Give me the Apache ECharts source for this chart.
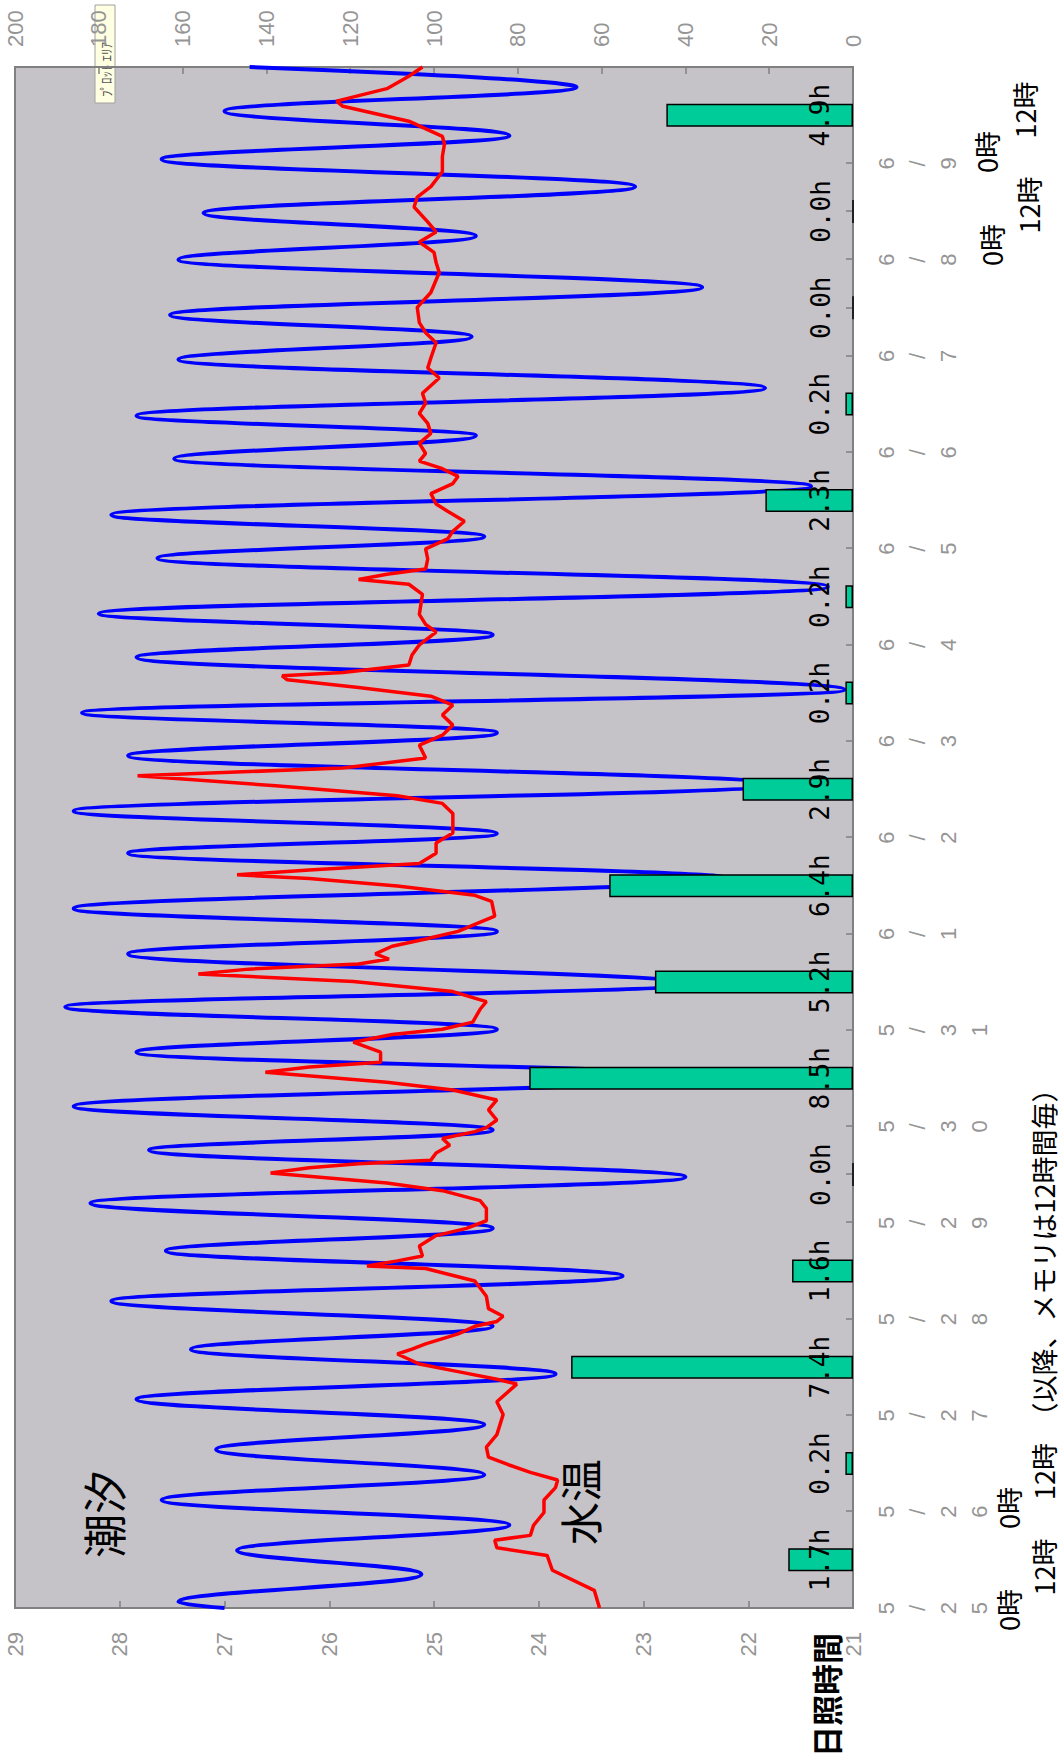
<!DOCTYPE html>
<html>
<head>
<meta charset="utf-8">
<script src="https://cdn.jsdelivr.net/npm/echarts@6/dist/echarts.min.js"></script>
<style>
  html, body { margin: 0; padding: 0; background: #ffffff; width: 1064px; height: 1763px; overflow: hidden; }
  /* the chart is laid out landscape and turned a quarter turn to stand upright */
  #chart { position: absolute; left: 0; top: 0; width: 1763px; height: 1064px;
           transform-origin: 0 0; transform: translate(0, 1763px) rotate(-90deg); }
</style>
</head>
<body>
<div id="chart"></div>
<script>
// Days on the time axis (hours counted from 5/25 0:00)
const dateLabels = ['5/25', '5/26', '5/27', '5/28', '5/29', '5/30', '5/31', '6/1',
                    '6/2', '6/3', '6/4', '6/5', '6/6', '6/7', '6/8', '6/9'];

// Daily sunshine duration (hours), one bar per day at noon
const sunHours = [1.7, 0.2, 7.4, 1.6, 0.0, 8.5, 5.2, 6.4, 2.9, 0.2, 0.2, 2.3, 0.2, 0.0, 0.0, 4.9];

// Tide level (cm): times of the turning points and their levels
const tideHours = [0, 1.5, 8.4, 14.4, 20.7, 26.9, 33.2, 39.5, 45.7, 52.0, 58.3, 64.5, 70.2, 76.5,
  82.7, 89.0, 94.6, 100.9, 107.4, 114.1, 119.1, 125.0, 132.3, 138.5, 144.2, 149.8, 155.5,
  163.0, 168.6, 174.3, 181.8, 188.1, 193.0, 198.6, 205.2, 212.4, 218.1, 223.1, 228.8, 236.9,
  242.5, 247.8, 254.5, 261.6, 267.0, 272.4, 279.5, 286.4, 292.1, 297.1, 304.0, 311.1, 316.8,
  322.2, 329.1, 336.0, 341.9, 347.6, 354.2, 361.0, 366.9, 373.0, 379.0, 384.0];
const tideLevels = [150, 161, 103, 147, 82, 165, 88, 152, 88, 171, 71, 158, 86, 177,
  55, 164, 86, 182, 40, 168, 86, 186, 32, 171, 85, 188, 38,
  173, 85, 186, 30, 173, 85, 186, 18, 173, 85, 184, 2, 171,
  86, 180, 6, 166, 88, 177, 10, 162, 90, 171, 21, 161, 91,
  163, 36, 161, 90, 155, 52, 165, 82, 150, 66, 144];

// Water temperature (°C)
const tempHours = [0, 4.4, 9.4, 13.1, 15.0, 16.9, 18.1, 20.6, 23.8, 26.9, 30.0, 31.9, 33.8, 35.7,
  37.6, 40.1, 43.2, 45.7, 48.2, 51.4, 55.8, 57.0, 58.9, 60.8, 63.3, 64.5, 65.8, 68.3, 70.2,
  71.4, 72.7, 74.6, 77.7, 81.5, 84.6, 85.2, 86.5, 87.7, 90.2, 92.8, 94.6, 96.5, 99.6, 101.5,
  104.0, 105.9, 108.4, 109.7, 110.7, 111.6, 113.4, 115.3, 117.0, 118.7, 119.7, 121.6, 124.1,
  126.6, 129.1, 131.0, 133.5, 134.8, 136.0, 138.5, 141.0, 142.9, 144.2, 146.0, 149.2, 151.1,
  153.6, 156.1, 158.0, 159.2, 160.5, 161.7, 163.0, 164.9, 166.7, 168.6, 172.4, 176.1, 177.6,
  179.9, 181.8, 182.7, 183.9, 185.5, 188.1, 190.6, 193.1, 198.0, 200.5, 202.4, 204.9, 207.4,
  209.3, 211.8, 215.0, 217.5, 220.0, 222.5, 225.0, 227.2, 229.4, 231.3, 232.3, 233.1, 235.0,
  237.5, 240.0, 243.2, 245.1, 247.6, 252.6, 255.1, 256.3, 257.6, 258.9, 261.4, 263.9, 266.4,
  268.3, 270.8, 273.3, 275.1, 277.7, 280.2, 282.0, 283.9, 285.8, 287.7, 290.2, 292.7, 295.2,
  297.7, 300.2, 302.7, 306.5, 309.0, 311.5, 315.3, 317.8, 320.3, 324.1, 327.8, 332.8, 335.3,
  337.8, 340.4, 342.9, 345.4, 349.1, 351.6, 354.2, 357.9, 361.7, 364.8, 366.7, 370.5, 374.2,
  375.5, 378.6, 381.7, 384.0];
const tempValues = [23.42, 23.47, 23.87, 23.92, 24.40, 24.42, 24.08, 24.05, 23.95, 23.95, 23.84, 23.82, 24.08, 24.29,
  24.48, 24.50, 24.40, 24.37, 24.34, 24.40, 24.21, 24.40, 24.77, 25.14, 25.35, 25.21, 25.08, 24.77, 24.61,
  24.40, 24.34, 24.48, 24.50, 24.61, 25.08, 25.64, 25.35, 25.11, 25.14, 24.98, 24.69, 24.50, 24.50, 24.56,
  24.92, 25.45, 26.56, 26.19, 25.72, 25.03, 24.98, 24.85, 24.92, 24.61, 24.50, 24.40, 24.48,
  24.40, 24.82, 25.45, 26.61, 26.19, 25.51, 25.51, 25.77, 25.40, 24.92, 24.63, 24.56, 24.50,
  24.82, 25.77, 27.25, 26.77, 25.72, 25.43, 25.56, 25.40, 25.08, 24.77, 24.42, 24.45, 24.61,
  25.35, 26.19, 26.88, 26.19, 25.14, 24.98, 24.98, 24.82, 24.82, 24.92, 25.35, 26.51, 27.83,
  25.87, 25.08, 25.14, 24.92, 24.82, 24.92, 24.82, 25.03, 25.72, 26.40, 26.45, 25.87, 25.24,
  25.21, 25.14, 24.98, 25.08, 25.14, 25.11, 25.24, 25.72, 25.45, 25.08, 25.06, 25.08, 24.87,
  24.82, 24.71, 24.87, 24.98, 25.03, 24.82, 24.77, 24.92, 25.14, 25.08, 25.14, 25.03, 25.06,
  25.14, 25.08, 25.11, 24.95, 25.06, 25.03, 24.98, 25.08, 25.14, 25.16, 25.03, 24.95, 24.98,
  25.00, 25.14, 24.98, 25.06, 25.19, 25.16, 25.03, 24.92, 24.92, 24.90, 24.92, 25.24, 25.87,
  25.93, 25.45, 25.24, 25.11];

// Axis ranges
const tempMin = 21, tempMax = 29, tempStep = 1;
const tideMin = 0, tideMax = 200, tideStep = 20;
const hourStep = 12;

const grey = '#959595';
const axisGrey = '#808080';
const latin = '"Liberation Sans", Arial, sans-serif';
const cjk = '"Noto Sans CJK JP", sans-serif';

const chart = echarts.init(document.getElementById('chart'), null, { renderer: 'svg' });

function axisBase(extra) {
  return Object.assign({
    axisLine: { show: true, lineStyle: { color: axisGrey, width: 2 } },
    axisTick: { show: true, inside: true, length: 7, lineStyle: { color: axisGrey, width: 1.5 } },
    splitLine: { show: false }
  }, extra);
}

function jpText(x, y, text, size, align, weight) {
  return {
    type: 'text', x: x, y: y, silent: true, z: 50,
    style: {
      text: text, fill: '#000000', fontSize: size, fontFamily: cjk,
      fontWeight: weight || 'normal', align: align || 'center', verticalAlign: 'middle'
    }
  };
}

const option = {
  animation: false,
  backgroundColor: '#ffffff',
  grid: {
    left: 155, right: 67, top: 15, bottom: 211,
    show: true, backgroundColor: '#C6C3C8', borderColor: axisGrey, borderWidth: 2,
    containLabel: false, outerBoundsMode: 'none'
  },
  xAxis: axisBase({
    type: 'value', min: 0, max: dateLabels.length * 24, interval: hourStep, position: 'bottom',
    axisLabel: {
      show: true, margin: 18, fontSize: 22, lineHeight: 31, color: grey, fontFamily: latin,
      showMinLabel: true, showMaxLabel: true,
      formatter: function (v) {
        const d = v / 24;
        if (Number.isInteger(d) && d < dateLabels.length) return dateLabels[d].split('').join('\n');
        return '';
      }
    }
  }),
  yAxis: [
    axisBase({
      type: 'value', min: tempMin, max: tempMax, interval: tempStep, position: 'left',
      axisLabel: { margin: 24, fontSize: 22, color: grey, fontFamily: latin }
    }),
    axisBase({
      type: 'value', min: tideMin, max: tideMax, interval: tideStep, position: 'right',
      axisLabel: { margin: 20, fontSize: 22, color: grey, fontFamily: latin }
    }),
    { type: 'value', min: 0, max: 22, show: false }
  ],
  series: [
    {
      name: '潮汐', type: 'line', xAxisIndex: 0, yAxisIndex: 1,
      data: tideHours.map((h, i) => [h, tideLevels[i]]),
      smooth: 0.4, smoothMonotone: 'x', showSymbol: false, silent: true, z: 2,
      lineStyle: { color: '#0000FF', width: 4 }
    },
    {
      name: '水温', type: 'line', xAxisIndex: 0, yAxisIndex: 0,
      data: tempHours.map((h, i) => [h, tempValues[i]]),
      showSymbol: false, silent: true, z: 3,
      lineStyle: { color: '#FF0000', width: 3.5 }
    },
    {
      name: '日照時間', type: 'bar', xAxisIndex: 0, yAxisIndex: 2,
      data: sunHours.map((h, i) => [i * 24 + 12, h]),
      barWidth: 23, silent: true, z: 4,
      itemStyle: { color: '#00CC99', borderColor: '#000000', borderWidth: 1.5 },
      label: {
        show: true, position: 'insideBottom', distance: 20,
        fontSize: 26, fontFamily: '"DejaVu Sans Mono", monospace', color: '#000000',
        formatter: function (p) { return p.value[1].toFixed(1) + 'h'; }
      }
    }
  ],
  graphic: [
    jpText(249, 103, '潮汐', 44),
    jpText(261, 579, '水温', 43),
    jpText(68, 825, '日照時間', 31, 'center', 'bold'),
    jpText(153, 1008, '0時', 27),
    jpText(255, 1008, '0時', 27),
    jpText(196, 1043, '12時', 27),
    jpText(263, 1043, '12時　（以降、メモリは12時間毎）', 27, 'left'),
    jpText(1518, 991, '0時', 27),
    jpText(1558, 1028, '12時', 27),
    jpText(1611, 986, '0時', 27),
    jpText(1653, 1024, '12時', 27),
    {
      type: 'group', x: 1660, y: 95, z: 60,
      children: [
        { type: 'rect', shape: { x: 0, y: 0, width: 98, height: 20 },
          style: { fill: '#FFFFE1', stroke: '#a0a0a0', lineWidth: 1 } },
        { type: 'text', x: 6, y: 10,
          style: { text: 'ﾌﾟﾛｯﾄ ｴﾘｱ', fontSize: 13, fontFamily: cjk, fill: '#555555',
                   align: 'left', verticalAlign: 'middle' } }
      ]
    }
  ]
};

chart.setOption(option);
</script>
</body>
</html>
